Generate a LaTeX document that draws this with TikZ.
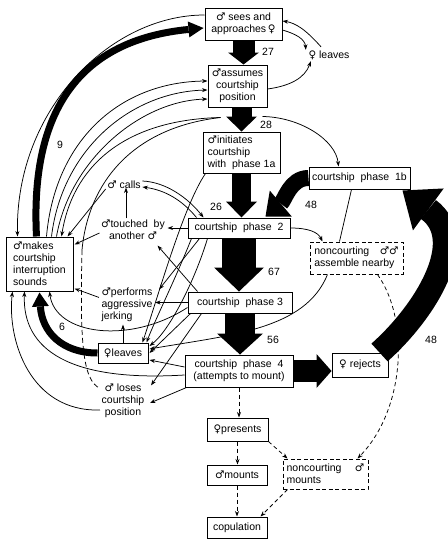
\documentclass[tikz,border=0pt]{standalone}
\usepackage{fontspec}
\setmainfont{Liberation Sans}
\newfontfamily\symf{DejaVu Sans}
\usetikzlibrary{arrows.meta,calc}
\newcommand{\Ma}{{\symf ♂}}
\newcommand{\Fe}{{\symf ♀}}
\begin{document}
\begin{tikzpicture}[x=1pt,y=-1pt,
  every node/.style={font=\fontsize{10.5}{12}\selectfont},
  box/.style={draw,line width=1pt,inner sep=1.5pt,align=center},
  dbox/.style={box,dash pattern=on 4pt off 2.5pt},
  txt/.style={inner sep=0.5pt,align=center},
  num/.style={inner sep=0pt},
  ln/.style={line width=0.75pt},
  ar/.style={ln,-{Stealth[length=5.5pt,width=4pt]}},
  dar/.style={ar,dash pattern=on 4pt off 3pt},
  blk/.style n args={3}{line width=#1,-{Triangle[length=#2,width=#3,line width=0pt]}}
]
\fill[white] (0,0) rectangle (447,546);
\useasboundingbox (0,0) rectangle (447,546);

% boxed states
\node[box,minimum width=77pt,minimum height=32pt] (sees) at (243.5,24) {\Ma\ sees and\\approaches\,\Fe};
\node[box,minimum width=59pt,minimum height=42pt] (assumes) at (237.5,86) {\Ma assumes\\courtship\\position};
\node[box,align=left,minimum width=77pt,minimum height=41pt] (initiates) at (241.5,152.5) {\Ma initiates\\courtship\\with\ \ phase 1a};
\node[box,minimum width=101pt,minimum height=22pt] (pone) at (359.5,178) {courtship\ \ phase\ \ 1b};
\node[box,minimum width=102pt,minimum height=20pt] (ptwo) at (239,228) {courtship\ \ phase\ \ 2};
\node[dbox,align=left,minimum width=93pt,minimum height=32pt] (assemble) at (356.5,258) {noncourting\quad\Ma\Ma\\assemble nearby};
\node[box,minimum width=104pt,minimum height=21pt] (pthree) at (240,302.5) {courtship\ \ phase\ 3};
\node[box,minimum width=108pt,minimum height=32pt] (pfour) at (239,371) {courtship\ \ phase\ \ 4\\(attempts\ to\ mount)};
\node[box,minimum width=56pt,minimum height=24pt] (rejects) at (360,365) {\Fe\ rejects};
\node[box,minimum width=61pt,minimum height=23pt] (presents) at (237.5,429.5) {\Fe presents};
\node[box,minimum width=60pt,minimum height=20pt] (mounts) at (237,475) {\Ma mounts};
\node[box,minimum width=60pt,minimum height=21pt] (copul) at (237,527.5) {copulation};
\node[dbox,align=left,minimum width=85pt,minimum height=30pt] (ncm) at (325.5,474) {noncourting\quad\ \Ma\\mounts};
\node[box,align=left,minimum width=67pt,minimum height=54pt] (makes) at (39.5,264) {\Ma makes\\courtship\\interruption\\sounds};
\node[box,minimum width=50pt,minimum height=20pt] (leaves) at (123,353) {\Fe leaves};

% unboxed states
\node[txt] (fleaves) at (329,55) {\Fe\ leaves};
\node[txt] (calls) at (124,185) {\Ma\ calls};
\node[txt] (touched) at (133,230) {\Ma touched\ \ by\\another \Ma};
\node[txt,align=left] (performs) at (127,305) {\Ma performs\\aggressive\\jerking};
\node[txt] (loses) at (123,401) {\Ma\ loses\\courtship\\position};

% numbers
\node[num] (n27) at (268,52) {27};
\node[num] (n28) at (266,125) {28};
\node[num] (n9) at (60,145) {9};
\node[num] (n26) at (216,207) {26};
\node[num] (n48a) at (311,205) {48};
\node[num] (n67) at (274,272) {67};
\node[num] (n56) at (273,340) {56};
\node[num] (n48b) at (431,340) {48};
\node[num] (n6) at (62,327) {6};

\coordinate (dsh) at (82,250);

% thin connectors
\draw[ar] ($(sees.west)+(0,-9)$) .. controls (110,15) and (15,110) .. ($(makes.north west)+(12,0)$);
\draw[ar] ($(fleaves.north)+(-8,-3)$) .. controls (306,30) and (296,23) .. ($(sees.east)+(0,-3)$);
\draw[ar] ($(sees.east)+(0,6)$) .. controls (296,34) and (305,39) .. ($(fleaves.north west)+(-2,0)$);
\draw[ar] ($(assumes.east)+(0,3)$) .. controls (290,86) and (305,78) .. ($(fleaves.south west)+(3,1)$);
\draw[ar] ($(makes.north west)+(41,0)$) .. controls (55,140) and (120,82) .. ($(assumes.west)+(0,-5)$);
\draw[ar] ($(makes.north west)+(46,0)$) .. controls (62,150) and (130,92) .. ($(assumes.west)+(0,4)$);
\draw[ar] ($(makes.north west)+(51,0)$) .. controls (70,160) and (140,101) .. ($(assumes.west)+(0,13)$);
\draw[ar] ($(assumes.south west)+(13,10)$) .. controls (120,120) and (72,170) .. ($(makes.north west)+(56,0)$);
\draw[ln] ($(assumes.south west)+(13,10)$) .. controls (130,128) and (88,185) .. (dsh);
\draw[ln,dash pattern=on 5pt off 3pt] (dsh) .. controls (80,340) and (82,380) .. ($(loses.north west)+(-1,5)$);
\draw[ar] ($(assumes.south east)+(-5,9)$) .. controls (300,117) and (336,140) .. ($(pone.north west)+(30,0)$);
\draw[ar] ($(calls.west)+(-1,4)$) -- ($(makes.north east)+(-6,0)$);
\draw[ar] ($(touched.west)+(-1,3)$) -- ($(makes.north east)+(1,8)$);
\draw[ar] ($(touched.north)+(-7,-1)$) -- ($(calls.south)+(2,-2)$);
\draw[ar] (ptwo.west) -- ($(ptwo.west -| touched.east)+(2,0)$);
\draw[ar] ($(ptwo.north west)+(9,0)$) .. controls (182,200) and (165,190) .. ($(calls.east)+(1,2)$);
\draw[ar] ($(calls.east)+(1,-4)$) .. controls (166,182) and (188,198) .. ($(ptwo.north west)+(16,0)$);
\draw[ar] ($(pthree.north west)+(10,0)$) -- ($(touched.south east)+(-8,5)$);
\draw[ar] ($(ptwo.south west)+(12,0)$) -- ($(performs.north east)+(6,2)$);
\draw[ar] (pthree.west) -- ($(pthree.west -| performs.east)+(2,0)$);
\draw[ar] ($(performs.north west)+(-2,10)$) -- ($(makes.south east)+(1,-3)$);
\draw[ar] (leaves.north) -- ($(performs.south -| leaves.north)+(0,2)$);
\draw[ar] ($(pthree.west)+(0,5)$) .. controls (130,345) and (55,335) .. ($(makes.south west)+(44,0)$);
\draw[ar] ($(pfour.west)+(0,4)$) .. controls (70,382) and (22,350) .. ($(makes.south west)+(19,0)$);
\draw[ar] ($(loses.west)+(-1,9)$) .. controls (30,412) and (7,340) .. ($(makes.south west)+(7,0)$);
\draw[ar] ($(pthree.south west)+(14,0)$) -- ($(loses.north east)+(6,2)$);
\draw[ar] ($(pfour.south west)+(2,0)$) -- ($(loses.east)+(5,2)$);
\draw[ar] ($(pfour.west)+(0,-4)$) -- ($(leaves.east)+(1,7)$);
\draw[ar] ($(assemble.south west)+(18,0)$) .. controls (305,330) and (230,335) .. ($(leaves.east)+(1,-4)$);
\draw[ar] ($(initiates.south west)+(3,0)$) .. controls (184,205) and (160,290) .. ($(leaves.north east)+(-6,0)$);
\draw[ar] ($(ptwo.south west)+(4,0)$) .. controls (175,280) and (155,320) .. ($(leaves.north east)+(-2,0)$);
\draw[ar] ($(ptwo.south west)+(20,0)$) .. controls (195,280) and (170,330) .. ($(leaves.east)+(1,-7)$);
\draw[ar] ($(pthree.south west)+(3,0)$) -- ($(leaves.east)+(1,0)$);
\draw[ar] (ptwo.east) .. controls (308,228) and (318,232) .. ($(assemble.north west)+(13,0)$);
\draw[ln] ($(pone.south west)+(43,0)$) -- ($(assemble.north west)+(30,0)$);
\draw[dar] ($(assemble.south east)+(-26,0)$) .. controls (410,320) and (405,410) .. ($(ncm.north east)+(-11,0)$);
\draw[dar] (pfour.south) -- (pfour.south |- presents.north);
\draw[dar] (presents.south) -- (presents.south |- mounts.north);
\draw[dar] (mounts.south) -- (mounts.south |- copul.north);
\draw[dar] (presents.south east) -- ($(ncm.north west)+(5,0)$);
\draw[dar] ($(ncm.south west)+(5,0)$) -- ($(copul.north east)+(-7,0)$);

% thick arrows
\draw[blk={22pt}{12pt}{31pt}] (sees.south) -- (sees.south |- assumes.north);
\draw[blk={20pt}{15pt}{31pt}] (initiates.north |- assumes.south) -- (initiates.north);
\draw[blk={19pt}{16pt}{31pt}] (initiates.south) -- (initiates.south |- ptwo.north);
\draw[blk={34pt}{24pt}{50pt}] (ptwo.south) -- (ptwo.south |- pthree.north);
\draw[blk={30pt}{21pt}{46pt}] (pthree.south) -- (pthree.south |- pfour.north);
\draw[blk={22pt}{15pt}{34pt}] (pfour.east) -- (pfour.east -| rejects.west);
\draw[blk={16pt}{20pt}{34pt}] (pone.west) .. controls (290,178) and (285,200) .. ($(ptwo.north east)+(-25,-1)$);
\draw[blk={24pt}{32pt}{52pt}] ($(rejects.north east)+(-9,0)$) .. controls (425,312) and (470,240) .. ($(pone.south east)+(-8,1)$);
\draw[blk={7pt}{15pt}{16pt}] ($(makes.north)+(-3,0)$) .. controls (30,110) and (80,40) .. ($(sees.west)+(-1,4)$);
\draw[blk={7pt}{14pt}{17pt}] (leaves.west) .. controls (62,353) and (42,332) .. ($(makes.south)+(0,1)$);
\end{tikzpicture}
\end{document}
